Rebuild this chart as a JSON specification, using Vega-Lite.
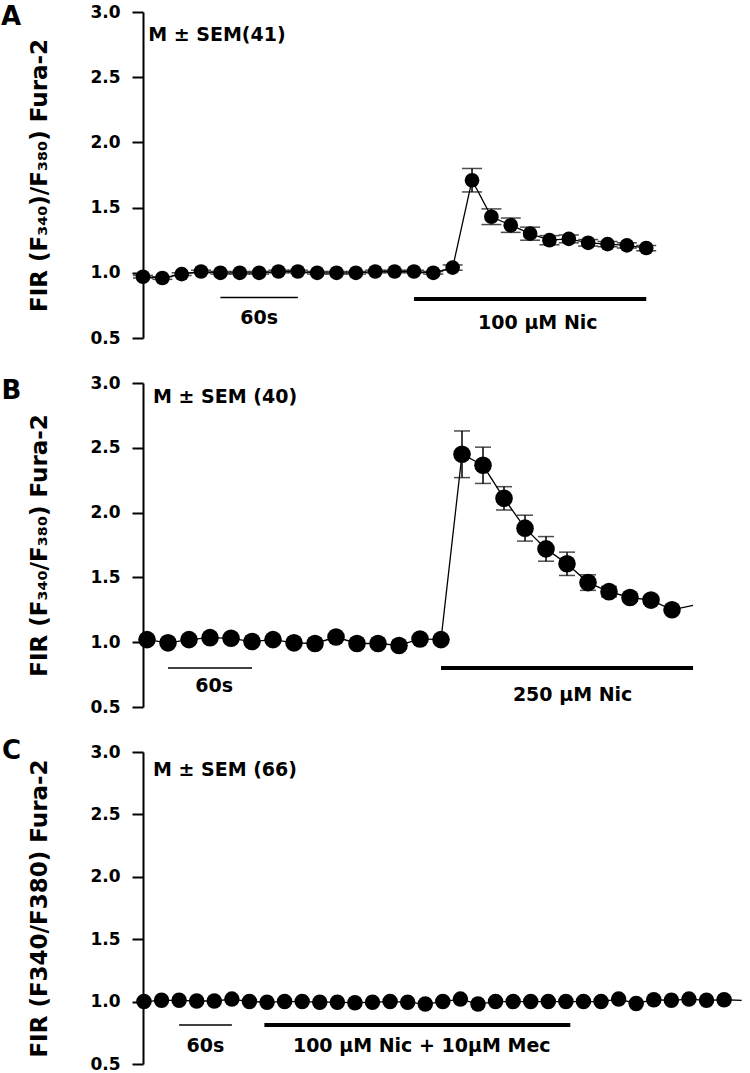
{
  "$schema": "https://vega.github.io/schema/vega-lite/v6.json",
  "background": "white",
  "padding": {"left": 1, "top": 3, "right": 2, "bottom": 0},
  "config": {
    "view": {"stroke": null},
    "font": "DejaVu Sans",
    "axis": {"domainColor": "black", "tickColor": "black", "labelColor": "black", "titleColor": "black", "grid": false}
  },
  "datasets": {
    "traceA": [
      {"t": 0, "v": 0.97, "sem": 0.01}, {"t": 15, "v": 0.96, "sem": 0.01}, {"t": 30, "v": 0.99, "sem": 0.01},
      {"t": 45, "v": 1.01, "sem": 0.01}, {"t": 60, "v": 1.0, "sem": 0.01}, {"t": 75, "v": 1.0, "sem": 0.01},
      {"t": 90, "v": 1.0, "sem": 0.01}, {"t": 105, "v": 1.01, "sem": 0.01}, {"t": 120, "v": 1.01, "sem": 0.01},
      {"t": 135, "v": 1.0, "sem": 0.01}, {"t": 150, "v": 1.0, "sem": 0.01}, {"t": 165, "v": 1.0, "sem": 0.01},
      {"t": 180, "v": 1.01, "sem": 0.01}, {"t": 195, "v": 1.01, "sem": 0.01}, {"t": 210, "v": 1.01, "sem": 0.01},
      {"t": 225, "v": 1.0, "sem": 0.01}, {"t": 240, "v": 1.04, "sem": 0.02}, {"t": 255, "v": 1.71, "sem": 0.09},
      {"t": 270, "v": 1.43, "sem": 0.06}, {"t": 285, "v": 1.365, "sem": 0.055}, {"t": 300, "v": 1.3, "sem": 0.05},
      {"t": 315, "v": 1.25, "sem": 0.035}, {"t": 330, "v": 1.26, "sem": 0.03}, {"t": 345, "v": 1.23, "sem": 0.025},
      {"t": 360, "v": 1.22, "sem": 0.02}, {"t": 375, "v": 1.21, "sem": 0.02}, {"t": 390, "v": 1.19, "sem": 0.02}
    ],
    "traceB": [
      {"t": 0, "v": 1.02, "sem": 0.01}, {"t": 15, "v": 0.995, "sem": 0.01}, {"t": 30, "v": 1.02, "sem": 0.01},
      {"t": 45, "v": 1.035, "sem": 0.01}, {"t": 60, "v": 1.03, "sem": 0.01}, {"t": 75, "v": 1.005, "sem": 0.01},
      {"t": 90, "v": 1.02, "sem": 0.01}, {"t": 105, "v": 0.995, "sem": 0.01}, {"t": 120, "v": 0.99, "sem": 0.01},
      {"t": 135, "v": 1.04, "sem": 0.01}, {"t": 150, "v": 0.99, "sem": 0.01}, {"t": 165, "v": 0.99, "sem": 0.01},
      {"t": 180, "v": 0.975, "sem": 0.01}, {"t": 195, "v": 1.025, "sem": 0.01}, {"t": 210, "v": 1.02, "sem": 0.01},
      {"t": 225, "v": 2.45, "sem": 0.18}, {"t": 240, "v": 2.365, "sem": 0.14}, {"t": 255, "v": 2.11, "sem": 0.09},
      {"t": 270, "v": 1.88, "sem": 0.1}, {"t": 285, "v": 1.72, "sem": 0.095}, {"t": 300, "v": 1.605, "sem": 0.09},
      {"t": 315, "v": 1.46, "sem": 0.06}, {"t": 330, "v": 1.39, "sem": 0.04}, {"t": 345, "v": 1.345, "sem": 0.03},
      {"t": 360, "v": 1.325, "sem": 0.03}, {"t": 375, "v": 1.25, "sem": 0.02}, {"t": 390, "v": 1.285, "sem": 0.0}
    ],
    "traceC": [
      {"t": 0, "v": 1.0}, {"t": 20, "v": 1.01}, {"t": 40, "v": 1.01}, {"t": 60, "v": 1.005}, {"t": 80, "v": 1.005},
      {"t": 100, "v": 1.02}, {"t": 120, "v": 1.0}, {"t": 140, "v": 0.995}, {"t": 160, "v": 1.0}, {"t": 180, "v": 1.0},
      {"t": 200, "v": 0.995}, {"t": 220, "v": 0.995}, {"t": 240, "v": 0.99}, {"t": 260, "v": 0.995}, {"t": 280, "v": 1.0},
      {"t": 300, "v": 0.995}, {"t": 320, "v": 0.98}, {"t": 340, "v": 1.0}, {"t": 360, "v": 1.02}, {"t": 380, "v": 0.98},
      {"t": 400, "v": 1.0}, {"t": 420, "v": 1.0}, {"t": 440, "v": 1.0}, {"t": 460, "v": 1.0}, {"t": 480, "v": 1.0},
      {"t": 500, "v": 1.0}, {"t": 520, "v": 1.0}, {"t": 540, "v": 1.02}, {"t": 560, "v": 0.985}, {"t": 580, "v": 1.015},
      {"t": 600, "v": 1.01}, {"t": 620, "v": 1.02}, {"t": 640, "v": 1.01}, {"t": 660, "v": 1.015}, {"t": 680, "v": 1.01}
    ],
    "notes": [
      {"panel": "A", "kind": "letter", "label": "A", "t": -110, "v": 2.96},
      {"panel": "A", "kind": "header", "label": "M ± SEM(41)", "t": 4, "v": 2.82},
      {"panel": "A", "kind": "caption", "label": "60s", "t": 90, "v": 0.653},
      {"panel": "A", "kind": "caption", "label": "100 µM Nic", "t": 306, "v": 0.615},
      {"panel": "B", "kind": "letter", "label": "B", "t": -104, "v": 2.94},
      {"panel": "B", "kind": "header", "label": "M ± SEM (40)", "t": 4.3, "v": 2.89},
      {"panel": "B", "kind": "caption", "label": "60s", "t": 48, "v": 0.66},
      {"panel": "B", "kind": "caption", "label": "250 µM Nic", "t": 304, "v": 0.59},
      {"panel": "C", "kind": "letter", "label": "C", "t": -161.5, "v": 3.01},
      {"panel": "C", "kind": "header", "label": "M ± SEM (66)", "t": 10.2, "v": 2.855},
      {"panel": "C", "kind": "caption", "label": "60s", "t": 70, "v": 0.647},
      {"panel": "C", "kind": "caption", "label": "100 µM Nic + 10µM Mec", "t": 316, "v": 0.647}
    ],
    "bars": [
      {"panel": "A", "kind": "scale", "t": 60, "t2": 120, "v": 0.81},
      {"panel": "A", "kind": "treatment", "t": 210, "t2": 390, "v": 0.8},
      {"panel": "B", "kind": "scale", "t": 15, "t2": 75, "v": 0.8},
      {"panel": "B", "kind": "treatment", "t": 210, "t2": 390, "v": 0.8},
      {"panel": "C", "kind": "scale", "t": 40, "t2": 100, "v": 0.813},
      {"panel": "C", "kind": "treatment", "t": 137, "t2": 485, "v": 0.813}
    ]
  },
  "bounds": "flush",
  "spacing": 45,
  "vconcat": [
    {
      "width": 600, "height": 326,
      "encoding": {
        "x": {"field": "t", "type": "quantitative", "scale": {"domain": [0, 465], "nice": false, "zero": false}, "axis": null},
        "y": {"field": "v", "type": "quantitative", "scale": {"domain": [0.5, 3.0], "nice": false, "zero": false},
          "axis": {"title": "FIR (F₃₄₀)/F₃₈₀) Fura-2", "values": [0.5, 1, 1.5, 2, 2.5, 3], "format": ".1f", "tickSize": 11, "tickWidth": 2, "domainWidth": 2, "labelPadding": 12, "labelFontSize": 17, "labelFontWeight": "bold", "labelFlush": false, "labelOverlap": false, "titleFontSize": 23, "titleFontWeight": "bold", "titlePadding": 38}}
      },
      "layer": [
        {"data": {"name": "traceA"}, "mark": {"type": "line", "color": "black", "strokeWidth": 1.3}},
        {
          "data": {"name": "traceA"},
          "mark": {"type": "errorbar", "color": "black", "thickness": 1.5, "ticks": {"size": 20, "thickness": 1.5, "color": "black"}},
          "encoding": {"yError": {"field": "sem"}}
        },
        {"data": {"name": "traceA"}, "mark": {"type": "circle", "color": "black", "opacity": 1, "size": 215}},
        {
          "data": {"name": "bars"},
          "transform": [{"filter": {"and": [{"field": "panel", "equal": "A"}, {"field": "kind", "equal": "scale"}]}}],
          "mark": {"type": "rule", "color": "black", "strokeWidth": 1.5},
          "encoding": {"x2": {"field": "t2"}}
        },
        {
          "data": {"name": "bars"},
          "transform": [{"filter": {"and": [{"field": "panel", "equal": "A"}, {"field": "kind", "equal": "treatment"}]}}],
          "mark": {"type": "rule", "color": "black", "strokeWidth": 4},
          "encoding": {"x2": {"field": "t2"}}
        },
        {
          "data": {"name": "notes"},
          "transform": [{"filter": {"and": [{"field": "panel", "equal": "A"}, {"field": "kind", "equal": "caption"}]}}],
          "mark": {"type": "text", "color": "black", "fontSize": 19, "fontWeight": "bold", "align": "center", "baseline": "middle"},
          "encoding": {"text": {"field": "label"}}
        },
        {
          "data": {"name": "notes"},
          "transform": [{"filter": {"and": [{"field": "panel", "equal": "A"}, {"field": "kind", "equal": "header"}]}}],
          "mark": {"type": "text", "color": "black", "fontSize": 19, "fontWeight": "bold", "align": "left", "baseline": "middle"},
          "encoding": {"text": {"field": "label"}}
        },
        {
          "data": {"name": "notes"},
          "transform": [{"filter": {"and": [{"field": "panel", "equal": "A"}, {"field": "kind", "equal": "letter"}]}}],
          "mark": {"type": "text", "color": "black", "fontSize": 26, "fontWeight": "bold", "align": "left", "baseline": "middle"},
          "encoding": {"text": {"field": "label"}}
        }
      ]
    },
    {
      "width": 600, "height": 324,
      "encoding": {
        "x": {"field": "t", "type": "quantitative", "scale": {"domain": [-2.86, 425.7], "nice": false, "zero": false}, "axis": null},
        "y": {"field": "v", "type": "quantitative", "scale": {"domain": [0.5, 3.0], "nice": false, "zero": false},
          "axis": {"title": "FIR (F₃₄₀/F₃₈₀) Fura-2", "values": [0.5, 1, 1.5, 2, 2.5, 3], "format": ".1f", "tickSize": 11, "tickWidth": 2, "domainWidth": 2, "labelPadding": 12, "labelFontSize": 17, "labelFontWeight": "bold", "labelFlush": false, "labelOverlap": false, "titleFontSize": 23, "titleFontWeight": "bold", "titlePadding": 38}}
      },
      "layer": [
        {"data": {"name": "traceB"}, "mark": {"type": "line", "color": "black", "strokeWidth": 1.3}},
        {
          "data": {"name": "traceB"},
          "transform": [{"filter": {"field": "t", "lte": 375}}],
          "mark": {"type": "errorbar", "color": "black", "thickness": 1.5, "ticks": {"size": 16, "thickness": 1.5, "color": "black"}},
          "encoding": {"yError": {"field": "sem"}}
        },
        {
          "data": {"name": "traceB"},
          "transform": [{"filter": {"field": "t", "lte": 375}}],
          "mark": {"type": "circle", "color": "black", "opacity": 1, "size": 310}
        },
        {
          "data": {"name": "bars"},
          "transform": [{"filter": {"and": [{"field": "panel", "equal": "B"}, {"field": "kind", "equal": "scale"}]}}],
          "mark": {"type": "rule", "color": "black", "strokeWidth": 1.5},
          "encoding": {"x2": {"field": "t2"}}
        },
        {
          "data": {"name": "bars"},
          "transform": [{"filter": {"and": [{"field": "panel", "equal": "B"}, {"field": "kind", "equal": "treatment"}]}}],
          "mark": {"type": "rule", "color": "black", "strokeWidth": 4},
          "encoding": {"x2": {"field": "t2"}}
        },
        {
          "data": {"name": "notes"},
          "transform": [{"filter": {"and": [{"field": "panel", "equal": "B"}, {"field": "kind", "equal": "caption"}]}}],
          "mark": {"type": "text", "color": "black", "fontSize": 19, "fontWeight": "bold", "align": "center", "baseline": "middle"},
          "encoding": {"text": {"field": "label"}}
        },
        {
          "data": {"name": "notes"},
          "transform": [{"filter": {"and": [{"field": "panel", "equal": "B"}, {"field": "kind", "equal": "header"}]}}],
          "mark": {"type": "text", "color": "black", "fontSize": 19, "fontWeight": "bold", "align": "left", "baseline": "middle"},
          "encoding": {"text": {"field": "label"}}
        },
        {
          "data": {"name": "notes"},
          "transform": [{"filter": {"and": [{"field": "panel", "equal": "B"}, {"field": "kind", "equal": "letter"}]}}],
          "mark": {"type": "text", "color": "black", "fontSize": 26, "fontWeight": "bold", "align": "left", "baseline": "middle"},
          "encoding": {"text": {"field": "label"}}
        }
      ]
    },
    {
      "width": 600, "height": 312,
      "encoding": {
        "x": {"field": "t", "type": "quantitative", "scale": {"domain": [-1.1, 681.5], "nice": false, "zero": false}, "axis": null},
        "y": {"field": "v", "type": "quantitative", "scale": {"domain": [0.5, 3.0], "nice": false, "zero": false},
          "axis": {"title": "FIR (F340/F380) Fura-2", "values": [0.5, 1, 1.5, 2, 2.5, 3], "format": ".1f", "tickSize": 11, "tickWidth": 2, "domainWidth": 2, "labelPadding": 12, "labelFontSize": 17, "labelFontWeight": "bold", "labelFlush": false, "labelOverlap": false, "titleFontSize": 23, "titleFontWeight": "bold", "titlePadding": 38}}
      },
      "layer": [
        {"data": {"name": "traceC"}, "mark": {"type": "line", "color": "black", "strokeWidth": 1.3}},
        {
          "data": {"name": "traceC"},
          "transform": [{"filter": {"field": "t", "lte": 660}}],
          "mark": {"type": "circle", "color": "black", "opacity": 1, "size": 240}
        },
        {
          "data": {"name": "bars"},
          "transform": [{"filter": {"and": [{"field": "panel", "equal": "C"}, {"field": "kind", "equal": "scale"}]}}],
          "mark": {"type": "rule", "color": "black", "strokeWidth": 1.5},
          "encoding": {"x2": {"field": "t2"}}
        },
        {
          "data": {"name": "bars"},
          "transform": [{"filter": {"and": [{"field": "panel", "equal": "C"}, {"field": "kind", "equal": "treatment"}]}}],
          "mark": {"type": "rule", "color": "black", "strokeWidth": 4},
          "encoding": {"x2": {"field": "t2"}}
        },
        {
          "data": {"name": "notes"},
          "transform": [{"filter": {"and": [{"field": "panel", "equal": "C"}, {"field": "kind", "equal": "caption"}]}}],
          "mark": {"type": "text", "color": "black", "fontSize": 19, "fontWeight": "bold", "align": "center", "baseline": "middle"},
          "encoding": {"text": {"field": "label"}}
        },
        {
          "data": {"name": "notes"},
          "transform": [{"filter": {"and": [{"field": "panel", "equal": "C"}, {"field": "kind", "equal": "header"}]}}],
          "mark": {"type": "text", "color": "black", "fontSize": 19, "fontWeight": "bold", "align": "left", "baseline": "middle"},
          "encoding": {"text": {"field": "label"}}
        },
        {
          "data": {"name": "notes"},
          "transform": [{"filter": {"and": [{"field": "panel", "equal": "C"}, {"field": "kind", "equal": "letter"}]}}],
          "mark": {"type": "text", "color": "black", "fontSize": 26, "fontWeight": "bold", "align": "left", "baseline": "middle"},
          "encoding": {"text": {"field": "label"}}
        }
      ]
    }
  ]
}
